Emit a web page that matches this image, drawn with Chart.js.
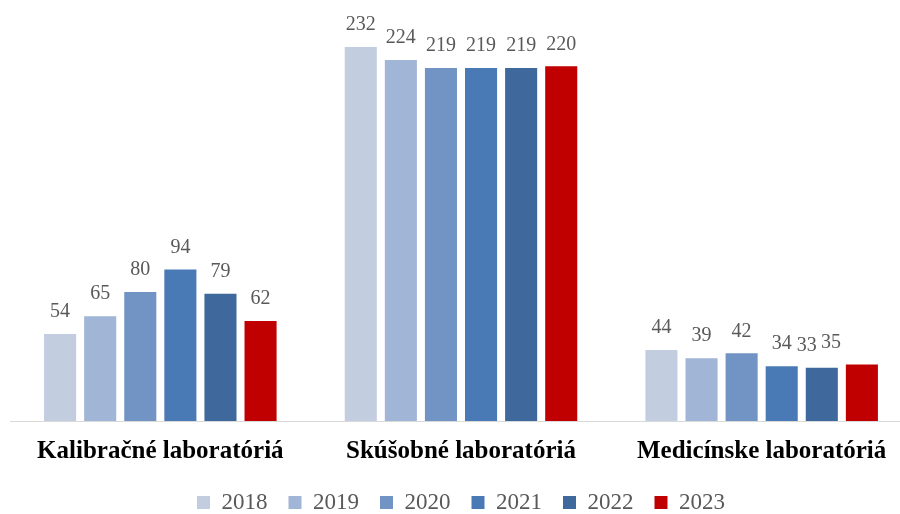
<!DOCTYPE html>
<html>
<head>
<meta charset="utf-8">
<script src="https://cdn.jsdelivr.net/npm/chart.js@4.4.1/dist/chart.umd.min.js"></script>
<style>
  html, body { margin: 0; padding: 0; background: #fff; overflow: hidden; }
  #wrap { width: 912px; height: 524px; }
</style>
</head>
<body>
<div id="wrap"><canvas id="barChart"></canvas></div>
<script>
// categories and yearly counts
const categories = ['Kalibračné laboratóriá', 'Skúšobné laboratóriá', 'Medicínske laboratóriá'];
const years = ['2018', '2019', '2020', '2021', '2022', '2023'];
const v2018 = [54, 232, 44];
const v2019 = [65, 224, 39];
const v2020 = [80, 219, 42];
const v2021 = [94, 219, 34];
const v2022 = [79, 219, 33];
const v2023 = [62, 220, 35];

const seriesValues = [v2018, v2019, v2020, v2021, v2022, v2023];
const colors = ['#c3cde0', '#a1b5d6', '#7294c4', '#4a7ab5', '#3f699d', '#c00000'];

// labels that were nudged by hand in the original (dataset index -> category index -> dx)
const labelNudge = { 4: { 2: -15 }, 5: { 2: -31 } };

const valueLabels = {
    id: 'valueLabels',
    afterDatasetsDraw(chart) {
        const c = chart.ctx;
        c.save();
        c.font = '20px "Liberation Serif", serif';
        c.fillStyle = '#595959';
        c.textAlign = 'center';
        c.textBaseline = 'middle';
        chart.data.datasets.forEach((ds, i) => {
            chart.getDatasetMeta(i).data.forEach((bar, j) => {
                const dx = (labelNudge[i] && labelNudge[i][j]) || 0;
                c.fillText(ds.data[j], bar.x + dx, bar.y - 22);
            });
        });
        c.restore();
    }
};

const ctx = document.getElementById('barChart').getContext('2d');
const barChart = new Chart(ctx, {
    type: 'bar',
    data: {
        labels: categories,
        datasets: years.map((y, i) => ({
            label: y,
            data: seriesValues[i],
            backgroundColor: colors[i],
            categoryPercentage: 0.8,
            barPercentage: 0.8
        }))
    },
    options: {
        responsive: true,
        maintainAspectRatio: false,
        animation: false,
        layout: { padding: { top: 18, left: 10, right: 0, bottom: 0 } },
        plugins: {
            legend: {
                position: 'bottom',
                labels: {
                    boxWidth: 13,
                    boxHeight: 13,
                    padding: 21,
                    color: '#595959',
                    font: { family: '"Liberation Serif", serif', size: 23 }
                }
            },
            tooltip: { enabled: false }
        },
        scales: {
            x: {
                grid: { display: false },
                border: { display: true, color: '#d9d9d9', width: 1 },
                ticks: {
                    color: '#000',
                    padding: 8,
                    font: { family: '"Liberation Serif", serif', size: 25, weight: 'bold' }
                },
                afterFit(scale) { scale.height -= 5; }
            },
            y: { display: false, min: 0, max: 250 }
        }
    },
    plugins: [valueLabels]
});
</script>
</body>
</html>
